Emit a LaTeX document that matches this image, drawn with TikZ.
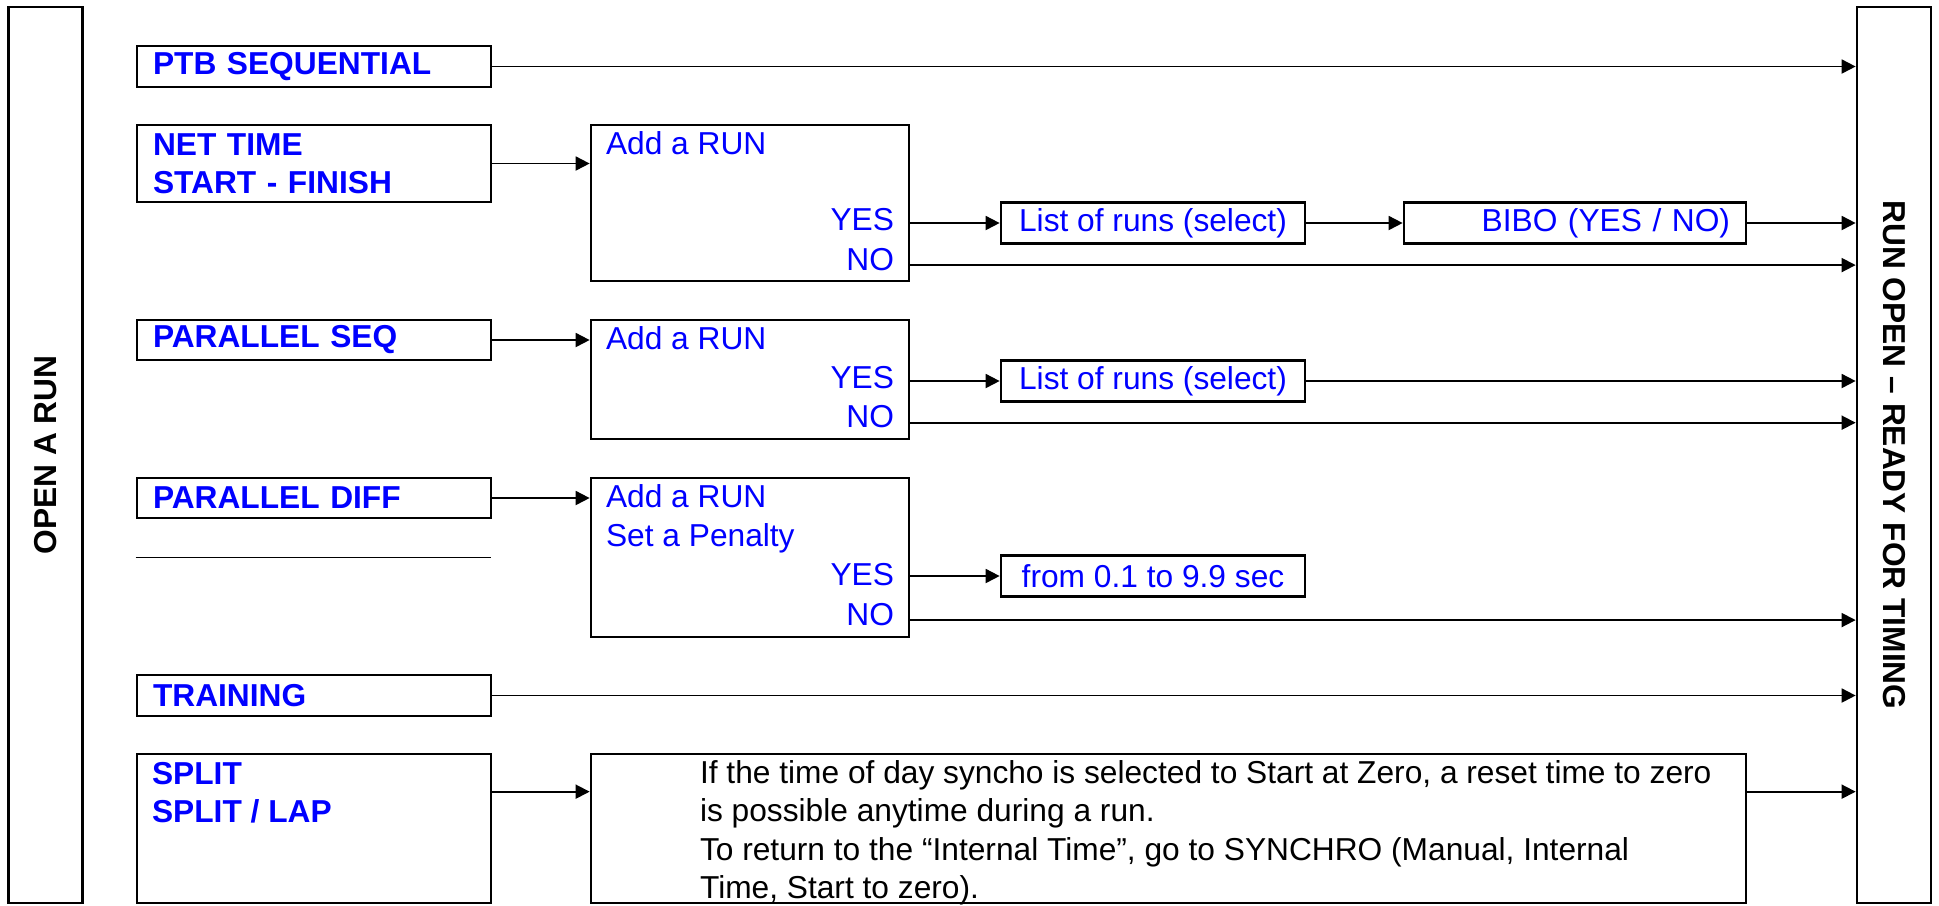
\documentclass[tikz,border=0pt]{standalone}
\usepackage{fontspec}
\setmainfont{Liberation Sans}
\usepackage{tikz}
\usetikzlibrary{positioning}
\usetikzlibrary{calc}
\usetikzlibrary{arrows.meta}
\usepackage{xcolor}
\definecolor{runblue}{rgb}{0,0,1}

\begin{document}
\begin{tikzpicture}[
    x = 0.5pt, y = -0.5pt,
    every node/.style = {font=\fontsize{15.85}{19.25}\selectfont, inner sep=0pt},
      bar/.style = {draw, line width=1.35pt, minimum width=37pt, minimum height=448pt},
      modebox/.style = {draw, line width=1.35pt, text=runblue, align=left,
        font=\fontsize{15.85}{19.25}\selectfont\bfseries,
        text width=161pt, inner xsep=8pt},
      askbox/.style = {draw, line width=1.35pt, minimum width=159pt},
      pickbox/.style = {draw, line width=1.35pt, text=runblue,
        minimum width=152pt, minimum height=20.5pt},
      lbl/.style = {text=runblue},
      arr/.style = {line width=0.9pt, -{Triangle[length=7pt, width=7pt]}}
    ]
    % side bars
    \node[bar] (lbar) at (45.5,455) {};
    \node[bar] (rbar) at (1894,455) {};
    \node[rotate=90, font=\fontsize{15.85}{19.25}\selectfont\bfseries] (open) at (lbar) {OPEN A RUN};
    \node[rotate=-90, font=\fontsize{15.85}{19.25}\selectfont\bfseries] (ready) at (rbar) {RUN OPEN – READY FOR TIMING};

    % modes
    \node[modebox, minimum height=20.5pt] (ptb) at (314,66.5) {PTB SEQUENTIAL};
    \node[modebox, minimum height=38.5pt] (net) at (314,163.5) {NET TIME\\START - FINISH};
    \node[modebox, minimum height=20pt] (pseq) at (314,340) {PARALLEL SEQ};
    \node[modebox, minimum height=20pt] (pdiff) at (314,498) {PARALLEL DIFF};
    \node[modebox, minimum height=20.5pt] (train) at (314,695.5) {TRAINING};
    \node[modebox, minimum height=74.5pt] (split) at (314,828.5) {};
    % base of a two-line node is its last line
    \node[lbl, anchor=base west, align=left, font=\fontsize{15.85}{19.25}\selectfont\bfseries]
        (splitt) at ($(split.north west)+(16,70)$) {SPLIT\\SPLIT / LAP};
    \draw[line width=0.7pt] ($(pdiff.south west)+(0,38)$) -- ($(pdiff.south east)+(-1,38)$);

    % questions
    \node[askbox, minimum height=78pt] (add1) at (750,203) {};
    \node[lbl, anchor=base west] (add1t) at ($(add1.north west)+(16,31)$) {Add a RUN};
    \node[lbl, anchor=base east] (yes1) at ($(add1.north east)+(-16,106.7)$) {YES};
    \node[lbl, anchor=base east] (no1) at ($(add1.north east)+(-16,146.7)$) {NO};

    \node[askbox, minimum height=59.5pt] (add2) at (750,379.5) {};
    \node[lbl, anchor=base west] (add2t) at ($(add2.north west)+(16,30.7)$) {Add a RUN};
    \node[lbl, anchor=base east] (yes2) at ($(add2.north east)+(-16,70)$) {YES};
    \node[lbl, anchor=base east] (no2) at ($(add2.north east)+(-16,109.3)$) {NO};

    \node[askbox, minimum height=79.5pt] (add3) at (750,557.5) {};
    \node[lbl, anchor=base west] (add3t) at ($(add3.north west)+(16,31)$) {Add a RUN};
    \node[lbl, anchor=base west] (add3p) at ($(add3.north west)+(16,70)$) {Set a Penalty};
    \node[lbl, anchor=base east] (yes3) at ($(add3.north east)+(-16,108.7)$) {YES};
    \node[lbl, anchor=base east] (no3) at ($(add3.north east)+(-16,148.7)$) {NO};

    % answers
    \node[pickbox] (list1) at (1153,223) {List of runs (select)};
    \node[pickbox, minimum width=171pt, text width=155pt, inner xsep=8pt, align=right] (bibo) at (1575,223) {BIBO (YES / NO)};
    \node[pickbox] (list2) at (1153,381) {List of runs (select)};
    \node[pickbox] (pen) at (1153,576) {from 0.1 to 9.9 sec};

    \node[draw, line width=1.35pt, minimum width=577.5pt, minimum height=74.5pt] (note) at (1168.5,828.5) {};
    \node[anchor=base west, align=left] (notet) at ($(note.north west)+(110,146)$)
        {If the time of day syncho is selected to Start at Zero, a reset time to zero\\
         is possible anytime during a run.\\
         To return to the “Internal Time”, go to SYNCHRO (Manual, Internal\\
         Time, Start to zero).};

    % connectors
    \draw[arr] (ptb.east) -- (ptb.east -| rbar.west);
    \draw[arr] (net.east) -- (net.east -| add1.west);
    \draw[arr] (add1.east |- list1) -- (list1.west);
    \draw[arr] (list1.east) -- (bibo.west);
    \draw[arr] (bibo.east) -- (bibo.east -| rbar.west);
    \draw[arr] (add1.east |- no1.mid east) -- (no1.mid east -| rbar.west);

    \draw[arr] (pseq.east) -- (pseq.east -| add2.west);
    \draw[arr] (add2.east |- list2) -- (list2.west);
    \draw[arr] (list2.east) -- (list2.east -| rbar.west);
    \draw[arr] (add2.east |- no2.mid east) -- (no2.mid east -| rbar.west);

    \draw[arr] (pdiff.east) -- (pdiff.east -| add3.west);
    \draw[arr] (add3.east |- pen) -- (pen.west);
    \draw[arr] (add3.east |- no3.mid east) -- (no3.mid east -| rbar.west);

    \draw[arr] (train.east) -- (train.east -| rbar.west);
    \draw[arr] ($(split.north east)+(0,39)$) -- ($(note.north west)+(0,39)$);
    \draw[arr] ($(note.north east)+(0,39)$) -- ($(note.north east -| rbar.west)+(0,39)$);

    \useasboundingbox (0,0) rectangle (1939,904);
\end{tikzpicture}
\end{document}
